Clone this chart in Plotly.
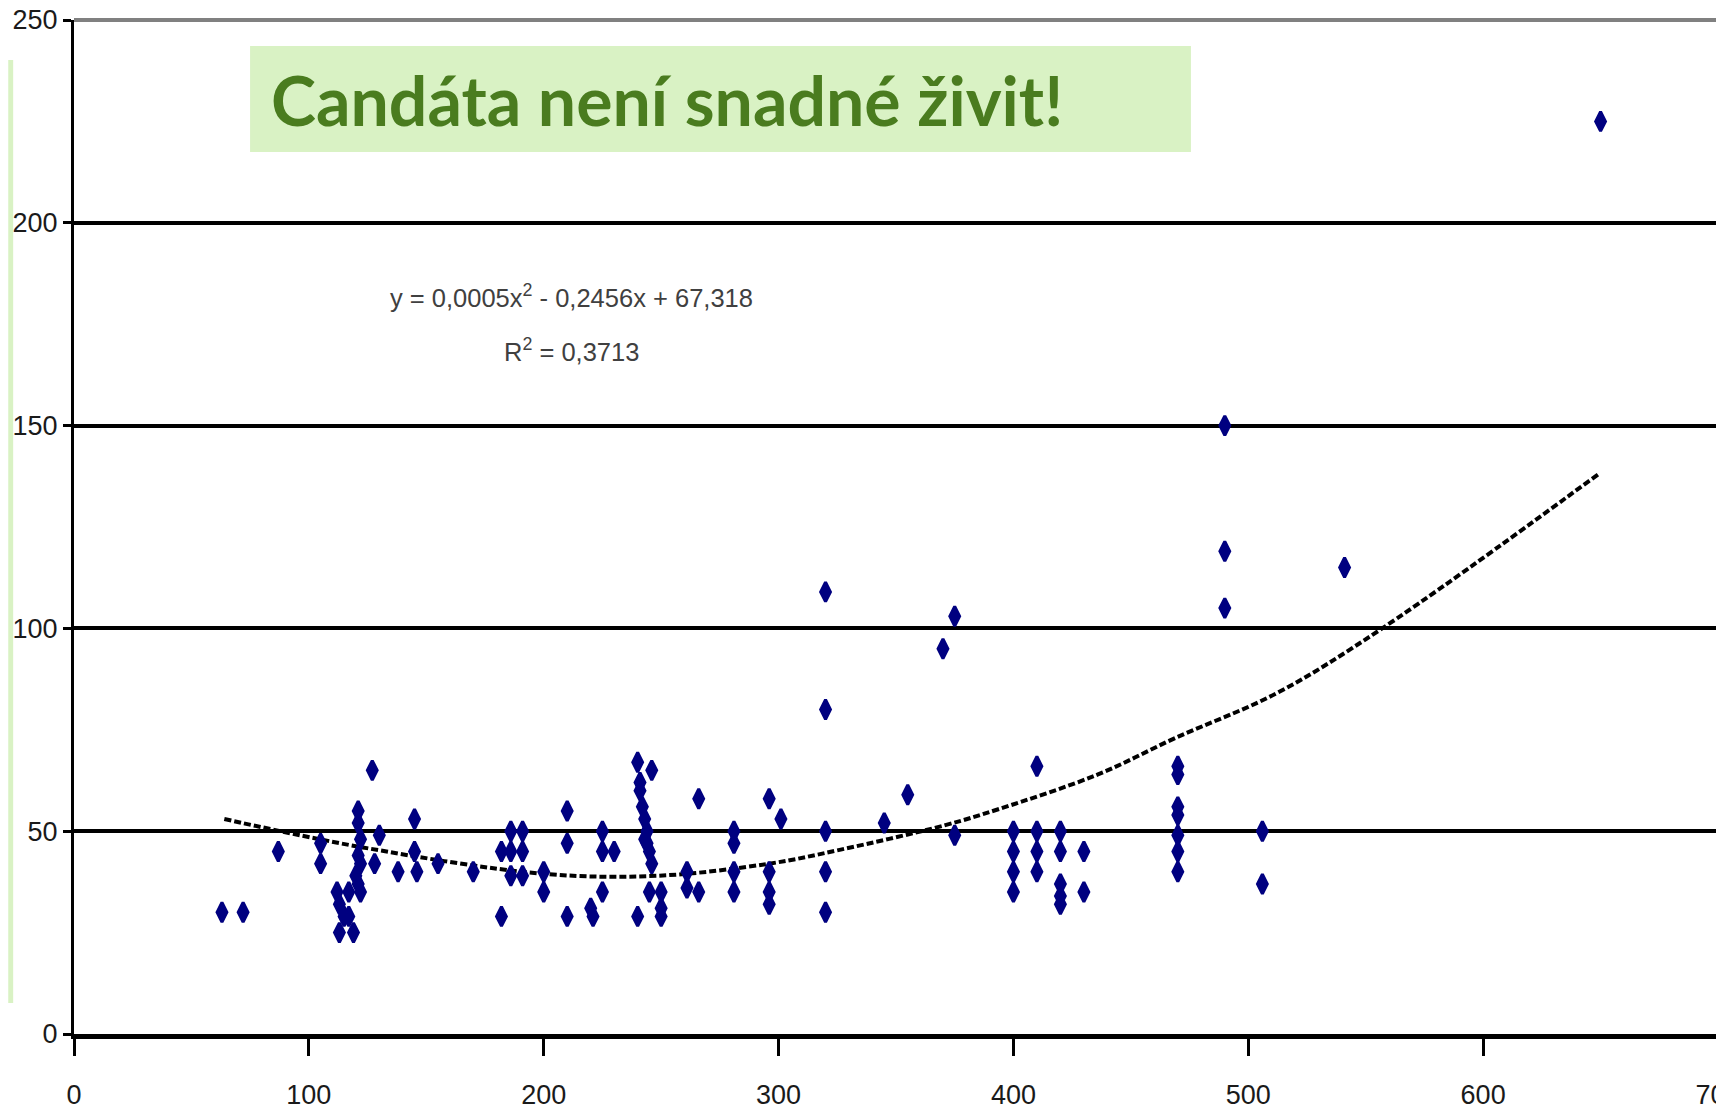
import plotly.graph_objects as go

# ---- data ----
length_x = [63, 72, 87, 105, 105,
            112, 117, 113, 115, 117, 113, 119, 122,
            121, 121, 122, 121, 122, 120, 121,
            127, 130, 128,
            138, 145, 145, 146, 155, 170,
            182, 182, 186, 186, 186, 191, 191, 191,
            200, 200,
            210, 210, 210,
            220, 221,
            225, 225, 225, 230,
            240, 240, 241, 241, 242, 243, 244, 244, 245, 246, 245, 246, 243,
            250, 250, 250,
            261, 261, 266, 266,
            281, 281, 281, 281,
            296, 296, 296, 296,
            301,
            320, 320, 320, 320, 320,
            345, 355, 370, 375, 375,
            400, 400, 400, 400,
            410, 410, 410, 410,
            420, 420, 420, 420, 420,
            430, 430,
            470, 470, 470, 470, 470, 470, 470,
            490, 490, 490,
            506, 506,
            541,
            650]
weight_y = [30, 30, 45, 47, 42,
            35, 35, 32, 29, 29, 25, 25, 35,
            55, 52, 48, 44, 42, 39, 37,
            65, 49, 42,
            40, 53, 45, 40, 42, 40,
            29, 45, 50, 45, 39, 50, 45, 39,
            40, 35,
            55, 47, 29,
            31, 29,
            50, 45, 35, 45,
            29, 67, 62, 60, 56, 53, 50, 47, 45, 42, 35, 65, 48,
            35, 31, 29,
            40, 36, 58, 35,
            50, 47, 40, 35,
            58, 40, 35, 32,
            53,
            109, 80, 50, 40, 30,
            52, 59, 95, 103, 49,
            50, 45, 40, 35,
            66, 50, 45, 40,
            50, 45, 37, 34, 32,
            45, 35,
            66, 64, 56, 54, 49, 45, 40,
            150, 119, 105,
            50, 37,
            115,
            225]

# polynomial trend line values
trend_x = [64, 123, 200, 248, 296, 326, 371, 394, 436, 469, 512, 557, 649]
trend_y = [53, 46, 39.5, 39, 42, 45.4, 51.5, 55.5, 64, 73, 84, 100, 138]

x_ticks = [0, 100, 200, 300, 400, 500, 600, 700]
y_ticks = [0, 50, 100, 150, 200, 250]

title_text = "Candáta není snadné živit!"
eq_line1 = "y = 0,0005x<sup>2</sup> - 0,2456x + 67,318"
eq_line2 = "R<sup>2</sup> = 0,3713"

narrow = "Liberation Sans Narrow, Arial Narrow, Liberation Sans, Arial, sans-serif"
tick_font = dict(family=narrow, size=27, color="#1a1a1a")

fig = go.Figure()
fig.add_trace(go.Scatter(
    x=trend_x, y=trend_y, mode="lines", line_shape="spline",
    line=dict(color="black", width=4, dash="7px,3px"),
    showlegend=False, hoverinfo="skip"))
fig.add_trace(go.Scatter(
    x=length_x, y=weight_y, mode="markers",
    marker=dict(symbol="diamond-tall", size=14, color="#000080",
                line=dict(width=3, color="#000080")),
    showlegend=False))

fig.update_layout(
    template="none",
    width=1716, height=1104,
    margin=dict(l=66, r=6, t=12, b=78, autoexpand=False),
    paper_bgcolor="white", plot_bgcolor="white",
    xaxis=dict(range=[0, 700], tickvals=x_ticks, showgrid=False, zeroline=False,
               automargin=False,
               showline=True, linecolor="black", linewidth=5,
               ticks="outside", ticklen=17, tickwidth=3, tickcolor="black",
               tickfont=tick_font, ticklabelstandoff=16, ticklabeloverflow="allow"),
    yaxis=dict(range=[0, 250], tickvals=y_ticks, showgrid=True, gridcolor="black",
               gridwidth=4, zeroline=False, automargin=False,
               showline=True, linecolor="black", linewidth=3,
               ticks="outside", ticklen=8, tickwidth=3, tickcolor="black",
               tickfont=tick_font, ticklabelstandoff=0, ticklabeloverflow="allow"),
    shapes=[
        # top border (grey)
        dict(type="line", xref="paper", yref="paper", x0=0, x1=1, y0=1, y1=1,
             line=dict(color="#808080", width=4), layer="above"),
        # right border (grey)
        dict(type="line", xref="paper", yref="paper", x0=1, x1=1, y0=0, y1=1,
             line=dict(color="#808080", width=2), layer="above"),
        # title box
        dict(type="rect", xref="paper", yref="paper",
             x0=0.1071, x1=0.6794, y0=0.8698, y1=0.9744,
             fillcolor="#d9f2c4", line=dict(width=0), layer="above"),
        # thin green strip on the left edge
        dict(type="rect", xref="paper", yref="paper",
             x0=-0.040, x1=-0.037, y0=0.0306, y1=0.9606,
             fillcolor="#d9f2c4", line=dict(width=0), layer="above"),
    ],
    annotations=[
        dict(text="<b>" + title_text + "</b>", xref="paper", yref="paper",
             x=0.1186, y=0.922, xanchor="left", yanchor="middle", showarrow=False,
             font=dict(family="Lato, Noto Sans, sans-serif", size=68, color="#4a7c1f")),
        dict(text=eq_line1, xref="x", yref="y", x=212, y=182, showarrow=False,
             xanchor="center", yanchor="middle",
             font=dict(family=narrow, size=25.5, color="#404040")),
        dict(text=eq_line2, xref="x", yref="y", x=212, y=168.6, showarrow=False,
             xanchor="center", yanchor="middle",
             font=dict(family=narrow, size=25.5, color="#404040")),
    ],
)

fig.write_html("out.html")
